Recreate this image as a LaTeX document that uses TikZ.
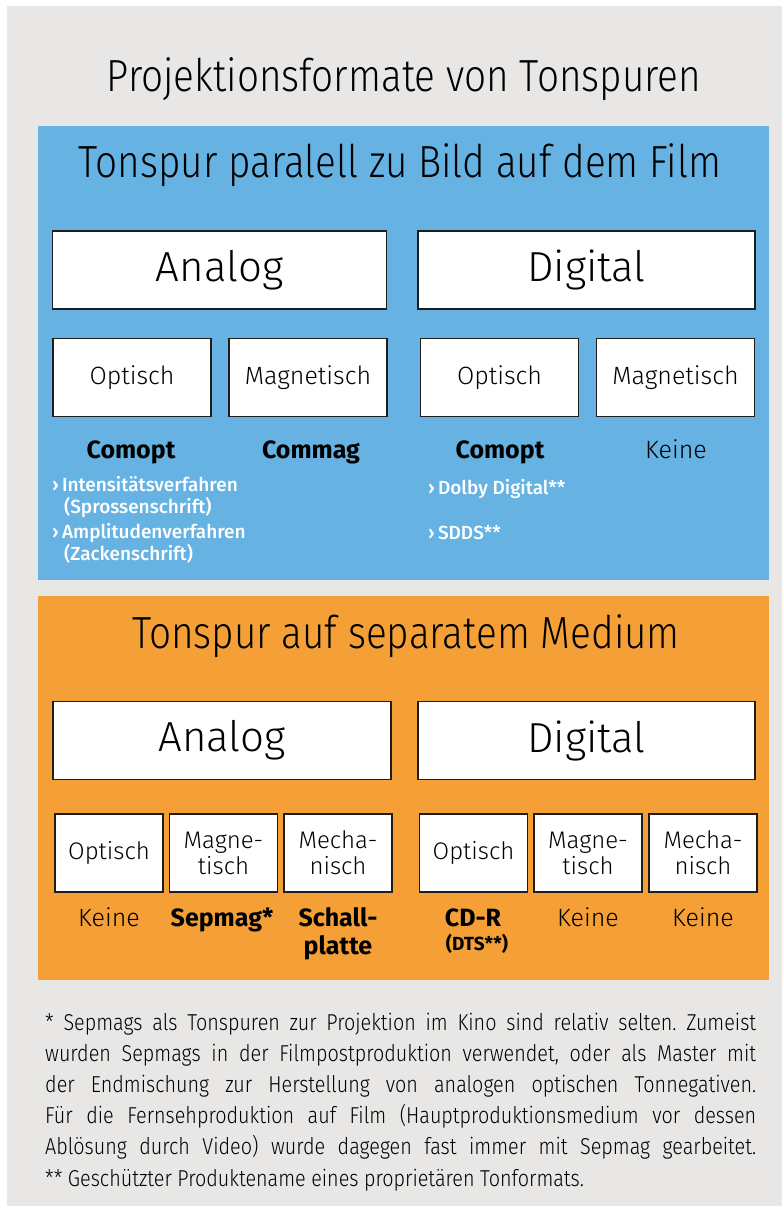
\documentclass[tikz,border=0pt]{standalone}
\usepackage{fontspec}
\setmainfont{Fira Sans Light}[BoldFont=Fira Sans Bold]
\newfontfamily\medfont{Fira Sans Medium}
\newfontfamily\headfont{Fira Sans Light}[FakeStretch=0.86]
\newfontfamily\notefont{Fira Sans Light}[FakeStretch=0.86]
\definecolor{bggray}{HTML}{E8E7E5}
\definecolor{myblue}{HTML}{66B2E2}
\definecolor{myorange}{HTML}{F4A037}
\definecolor{edge}{HTML}{1E1E1E}
\frenchspacing
\begin{document}
\begin{tikzpicture}[x=1pt,y=-1pt,
  box/.style={draw=edge, line width=1.6pt, fill=white, inner sep=0pt, align=center},
  bigbox/.style={box, minimum height=78pt, font=\fontsize{42}{42}\selectfont},
  smallbox/.style={box, minimum width=158pt, minimum height=78pt, font=\fontsize{25}{25}\selectfont},
  tinybox/.style={box, minimum width=108pt, minimum height=78pt, font=\fontsize{24}{26}\selectfont},
  lbl/.style={font=\fontsize{25}{27}\selectfont, align=center, anchor=base, inner sep=0pt},
  blbl/.style={font=\bfseries\fontsize{25}{27}\selectfont, align=center, anchor=base, inner sep=0pt},
  bul/.style={font=\medfont\fontsize{19}{23}\selectfont, text=white, anchor=base west, inner sep=0pt},
  head/.style={font=\headfont\fontsize{45}{45}\selectfont, anchor=base, inner sep=0pt},
]
\useasboundingbox (0,0) rectangle (782,1213);
\fill[white] (0,0) rectangle (782,1213);
\fill[bggray] (7,6) rectangle (782,1206);
\fill[myblue] (38,126) rectangle (769,580);
\fill[myorange] (38,596) rectangle (769,980);

\node[head] (title) at (404,91) {Projektionsformate von Tonspuren};
\node[head] (h1) at (400,177) {Tonspur paralell zu Bild auf dem Film};
\node[head] (h2) at (406,648) {Tonspur auf separatem Medium};

% blue panel
\node[bigbox, minimum width=334pt] (a1) at (219.5,270) {Analog};
\node[bigbox, minimum width=337pt] (d1) at (586.5,270) {Digital};
\node[smallbox] (o1) at (132,377.5) {Optisch};
\node[smallbox] (m1) at (308,377.5) {Magnetisch};
\node[smallbox] (o2) at (499.5,377.5) {Optisch};
\node[smallbox] (m2) at (675.5,377.5) {Magnetisch};

\node[blbl] (l1) at (131,458) {Comopt};
\node[blbl] (l2) at (311,458) {Commag};
\node[blbl] (l3) at (500,458) {Comopt};
\node[lbl] (l4) at (676,458) {Keine};

\node[bul] (b1) at (52,491) {›\,Intensitätsverfahren};
\node[bul] (b2) at (64,513) {(Sprossenschrift)};
\node[bul] (b3) at (52,538) {›\,Amplitudenverfahren};
\node[bul] (b4) at (64,560) {(Zackenschrift)};
\node[bul] (b5) at (428,494) {›\,Dolby Digital**};
\node[bul] (b6) at (428,539) {›\,SDDS**};

% orange panel
\node[bigbox, minimum width=338pt] (a2) at (222,740.5) {Analog};
\node[bigbox, minimum width=337pt] (d2) at (586.5,740.5) {Digital};
\node[tinybox] (t1) at (109,853) {Optisch};
\node[tinybox] (t2) at (223.5,853) {Magne-\\tisch};
\node[tinybox] (t3) at (338,853) {Mecha-\\nisch};
\node[tinybox] (t4) at (473.5,853) {Optisch};
\node[tinybox] (t5) at (588,853) {Magne-\\tisch};
\node[tinybox] (t6) at (703,853) {Mecha-\\nisch};

\node[lbl] (k1) at (109,926) {Keine};
\node[blbl] (s1) at (222,926) {Sepmag*};
\node[blbl, font=\bfseries\fontsize{25}{28}\selectfont] (s2) at (338,954) {Schall-\\platte};
\node[blbl] (s3) at (473,926) {CD-R};
\node[blbl, font=\bfseries\fontsize{19}{19}\selectfont] (s4) at (477,950) {(DTS**)};
\node[lbl] (k2) at (588,926) {Keine};
\node[lbl] (k3) at (703,926) {Keine};

% footnote
\node[anchor=base west, inner sep=0pt, text width=711pt, align=justify,
      font=\notefont\fontsize{23}{31.2}\selectfont] (fn) at (45,1030)
{* Sepmags als Tonspuren zur Projektion im Kino sind relativ selten. Zumeist\linebreak
wurden Sepmags in der Filmpostproduktion verwendet, oder als Master mit\linebreak
der Endmischung zur Herstellung von analogen optischen Tonnegativen.\linebreak
Für die Fernsehproduktion auf Film (Hauptproduktionsmedium vor dessen\linebreak
Ablösung durch Video) wurde dagegen fast immer mit Sepmag gearbeitet.\linebreak
** Geschützter Produktename eines proprietären Tonformats.};
\end{tikzpicture}
\end{document}
